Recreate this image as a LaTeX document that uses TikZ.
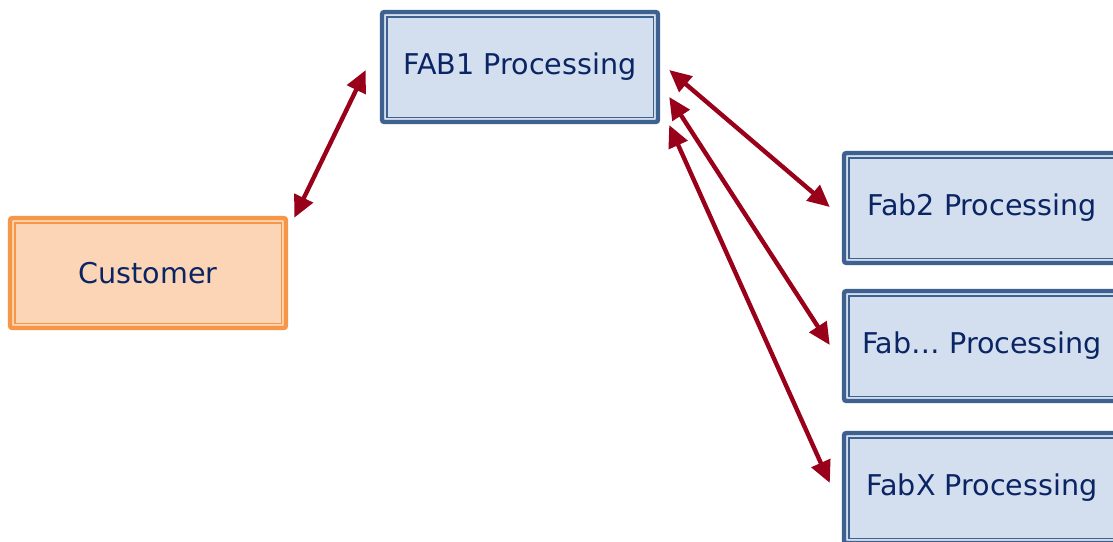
\documentclass[tikz,border=0pt]{standalone}
\usepackage{fontspec}
\setmainfont{DejaVu Sans}
\usetikzlibrary{arrows.meta}
\definecolor{boxblue}{RGB}{211,223,238}
\definecolor{edgeblue}{RGB}{63,97,144}
\definecolor{boxorange}{RGB}{251,213,181}
\definecolor{edgeorange}{RGB}{247,150,70}
\definecolor{textnavy}{RGB}{10,36,100}
\definecolor{linkred}{RGB}{153,0,25}

\begin{document}
\begin{tikzpicture}[x=0.5pt,y=-0.5pt,
  fabbox/.style={draw=edgeblue,fill=boxblue,line width=2.2pt,rounded corners=1.2pt,
    minimum width=138pt,minimum height=55pt,text=textnavy,font=\fontsize{14.3}{16}\selectfont},
  custbox/.style={fabbox,draw=edgeorange,fill=boxorange},
  link/.style={draw=linkred,line width=2.2pt,{Triangle[length=11pt,width=10pt]}-{Triangle[length=11pt,width=10pt]}}]
\useasboundingbox (0,0) rectangle (1113,541);

\node[fabbox] (fab1) at (520,67) {FAB1 Processing};
\node[custbox] (cust) at (148,273) {Customer};
\node[fabbox] (fab2) at (982,208) {Fab2 Processing};
\node[fabbox] (fabn) at (982,346) {Fab… Processing};
\node[fabbox] (fabx) at (982,488) {FabX Processing};

% thin inner line of the double frames
\foreach \n/\c in {fab1/edgeblue,fab2/edgeblue,fabn/edgeblue,fabx/edgeblue,cust/edgeorange}
  \draw[\c,line width=0.7pt] ([shift={(7,-7)}]\n.south west) rectangle ([shift={(-7,7)}]\n.north east);

\draw[link] ([shift={(6,2)}]cust.north east) -- ([shift={(-14,3)}]fab1.west);
\draw[link] ([shift={(9,3)}]fab1.east) -- ([shift={(-12,-1)}]fab2.west);
\draw[link] ([shift={(9,30)}]fab1.east) -- ([shift={(-12,-1)}]fabn.west);
\draw[link] ([shift={(9,58)}]fab1.east) -- ([shift={(-12,-5)}]fabx.west);
\end{tikzpicture}
\end{document}
